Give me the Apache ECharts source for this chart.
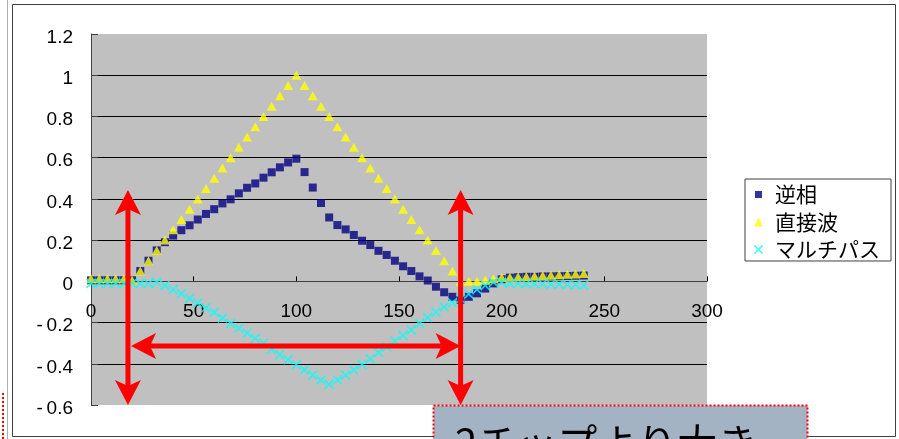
<!DOCTYPE html>
<html>
<head>
<meta charset="utf-8">
<script src="https://cdn.jsdelivr.net/npm/echarts@6/dist/echarts.min.js"></script>
<style>
  html, body { margin: 0; padding: 0; background: #ffffff; }
  #chart { width: 899px; height: 439px; }
</style>
</head>
<body>
<div id="chart"></div>
<script>
// Sample positions (chip offset)
const xs = [0, 4, 8, 12, 16, 20, 24, 28, 32, 36, 40, 44, 48, 52, 56, 60, 64, 68, 72, 76,
  80, 84, 88, 92, 96, 100, 104, 108, 112, 116, 120, 124, 128, 132, 136, 140, 144, 148, 152, 156,
  160, 164, 168, 172, 176, 180, 184, 188, 192, 196, 200, 204, 208, 212, 216, 220, 224, 228, 232, 236, 240];

// 逆相
const antiPhase = [0.005, 0.005, 0.005, 0.005, 0.005, 0.005, 0.05, 0.1, 0.15, 0.19, 0.222, 0.248, 0.272, 0.3, 0.327, 0.35,
  0.378, 0.398, 0.427, 0.454, 0.475, 0.503, 0.529, 0.553, 0.577, 0.595, 0.53, 0.455, 0.38, 0.31,
  0.273, 0.252, 0.225, 0.197, 0.176, 0.148, 0.128, 0.1, 0.073, 0.05, 0.024, 0.004, -0.026, -0.053, -0.075,
  -0.09, -0.075, -0.058, -0.035, -0.01, 0.01, 0.018, 0.02, 0.022, 0.022, 0.024, 0.024, 0.025, 0.026, 0.027, 0.028];

// 直接波
const directWave = [0.012, 0.012, 0.012, 0.012, 0.012, 0.005, 0.05, 0.1, 0.15, 0.2, 0.25, 0.3, 0.35, 0.4, 0.45, 0.5,
  0.55, 0.6, 0.65, 0.7, 0.75, 0.8, 0.85, 0.9, 0.95, 1.0, 0.95, 0.9, 0.85, 0.8,
  0.75, 0.7, 0.65, 0.6, 0.55, 0.5, 0.45, 0.4, 0.35, 0.3, 0.25, 0.2, 0.15, 0.1, 0.05,
  0.0, 0.0, 0.0, 0.006, 0.012, 0.018, 0.02, 0.022, 0.024, 0.026, 0.028, 0.03, 0.032, 0.034, 0.036, 0.038];

// マルチパス
const multipath = [-0.01, -0.01, -0.01, -0.01, -0.01, -0.01, -0.01, -0.01, -0.005, -0.02, -0.04, -0.06, -0.083, -0.105, -0.128, -0.15,
  -0.178, -0.204, -0.228, -0.252, -0.277, -0.3, -0.33, -0.356, -0.38, -0.405, -0.43, -0.455, -0.479, -0.5,
  -0.479, -0.455, -0.43, -0.403, -0.376, -0.345, -0.318, -0.29, -0.262, -0.236, -0.205, -0.176, -0.15, -0.125, -0.104,
  -0.085, -0.062, -0.04, -0.02, -0.005, -0.005, -0.01, -0.01, -0.012, -0.012, -0.012, -0.014, -0.014, -0.015, -0.016, -0.018];

const seriesNames = ['逆相', '直接波', 'マルチパス'];
const xTicks = [0, 50, 100, 150, 200, 250, 300];
const yTicks = [-0.6, -0.4, -0.2, 0, 0.2, 0.4, 0.6, 0.8, 1, 1.2];

// Red span arrows, in data coordinates (arrow tips)
const spanStart = 18;
const spanEnd = 180;
const spanTop = 0.443;
const spanBottom = -0.6;
const spanLevel = -0.314;
const spanLeft = 19.5;

const crossPath = 'path://M0,1.15L1.15,0L5,3.85L8.85,0L10,1.15L6.15,5L10,8.85L8.85,10L5,6.15L1.15,10L0,8.85L3.85,5Z';
const squareIcon = 'path://M0,0M9,9M1,1h7v7h-7z';

function pairs(values) {
  return xs.map((x, i) => [x, values[i]]);
}

const chart = echarts.init(document.getElementById('chart'), null, { renderer: 'canvas' });

const labelFont = 'Liberation Sans, Arial, sans-serif';
const cjkFont = '"Noto Sans CJK JP", sans-serif';

// grid geometry
const gridTop = 34, gridHeight = 371;
const yMin = yTicks[0], yMax = yTicks[yTicks.length - 1];
// lift the horizontal axis from the bottom edge up to the zero line
const zeroLift = gridHeight * (0 - yMin) / (yMax - yMin);

const baseGraphics = [
  { type: 'line', shape: { x1: 7.5, y1: 0, x2: 7.5, y2: 439 }, style: { stroke: '#b0b0b0', lineWidth: 1 }, z: 1 },
  { type: 'line', shape: { x1: 3, y1: 393, x2: 3, y2: 439 }, style: { stroke: '#ff0000', lineWidth: 2, lineDash: [2, 2] }, z: 1 },
  { type: 'rect', shape: { x: 12.5, y: 4.5, width: 883, height: 432 }, style: { fill: 'none', stroke: '#404040', lineWidth: 1 }, z: 1 },
  { type: 'rect', shape: { x: 433.5, y: 405.5, width: 374, height: 60 }, style: { fill: '#a3b3c4', stroke: '#ff0000', lineWidth: 2, lineDash: [2, 2] }, z: 100 },
  { type: 'text', x: 455, y: 423, z: 101, style: { text: '2チップより大き', fontSize: 40, fontFamily: cjkFont, fill: '#000000', verticalAlign: 'top' } }
];

chart.setOption({
  animation: false,
  backgroundColor: '#ffffff',
  grid: {
    left: 91, top: gridTop, width: 616, height: gridHeight,
    show: true, backgroundColor: '#c0c0c0', borderWidth: 0
  },
  xAxis: {
    type: 'value',
    position: 'bottom',
    offset: -zeroLift,
    min: xTicks[0], max: xTicks[xTicks.length - 1], interval: xTicks[1] - xTicks[0],
    axisLine: { show: true, onZero: false, lineStyle: { color: '#404040', width: 1 } },
    axisTick: { show: true, inside: true, length: 5, lineStyle: { color: '#000000' } },
    axisLabel: { margin: 21, fontSize: 19, color: '#000000', fontFamily: labelFont },
    splitLine: { show: false }
  },
  yAxis: {
    type: 'value',
    min: yMin, max: yMax, interval: 0.2,
    axisLine: { show: true, onZero: false, lineStyle: { color: '#404040', width: 1 } },
    axisTick: { show: true, inside: true, length: 7, lineStyle: { color: '#404040' } },
    axisLabel: {
      margin: 18, fontSize: 19, color: '#000000', fontFamily: labelFont,
      verticalAlign: 'top', lineHeight: 7,
      formatter: function (v) {
        const a = +Math.abs(v).toFixed(1);
        return v < -1e-9 ? '-\u2009' + a : String(a);
      }
    },
    splitLine: { show: true, showMinLine: false, showMaxLine: false, lineStyle: { color: '#000000', width: 1 } }
  },
  legend: {
    orient: 'vertical',
    left: 745, top: 179,
    padding: [5, 11, 1, 9],
    itemGap: 6.5,
    itemWidth: 9, itemHeight: 9,
    backgroundColor: '#ffffff',
    borderColor: '#404040', borderWidth: 1,
    selectedMode: false,
    textStyle: { fontSize: 21, color: '#000000', fontFamily: cjkFont, padding: [0, 0, 0, 7] },
    data: [
      { name: seriesNames[0], icon: squareIcon },
      { name: seriesNames[1], icon: 'triangle' },
      { name: seriesNames[2], icon: crossPath }
    ]
  },
  series: [
    {
      name: seriesNames[0], type: 'scatter', data: pairs(antiPhase),
      symbol: 'rect', symbolSize: 8, itemStyle: { color: '#000080' }, z: 2,
      emphasis: { disabled: true }, silent: true
    },
    {
      name: seriesNames[1], type: 'scatter', data: pairs(directWave),
      symbol: 'triangle', symbolSize: [10, 9], itemStyle: { color: '#ffff00' }, z: 3,
      emphasis: { disabled: true }, silent: true
    },
    {
      name: seriesNames[2], type: 'scatter', data: pairs(multipath),
      symbol: crossPath, symbolSize: 10, itemStyle: { color: '#00ffff' }, z: 4,
      emphasis: { disabled: true }, silent: true
    }
  ],
  graphic: baseGraphics
});

// Double-headed red arrows placed through the chart's own coordinate conversion
const HEAD_LEN = 25, HEAD_HALF = 13, NOTCH = 19, SHAFT = 5, RED = '#ff0000';

function toPx(x, y) {
  return chart.convertToPixel({ gridIndex: 0 }, [x, y]);
}

function arrow(p1, p2) {
  const dx = p2[0] - p1[0], dy = p2[1] - p1[1];
  const len = Math.hypot(dx, dy);
  const ux = dx / len, uy = dy / len;
  const nx = -uy, ny = ux;
  function head(tip, dir) {
    const bx = tip[0] + dir[0] * HEAD_LEN, by = tip[1] + dir[1] * HEAD_LEN;
    const cx = tip[0] + dir[0] * NOTCH, cy = tip[1] + dir[1] * NOTCH;
    return {
      type: 'polygon', z: 50,
      shape: { points: [tip, [bx + nx * HEAD_HALF, by + ny * HEAD_HALF], [cx, cy], [bx - nx * HEAD_HALF, by - ny * HEAD_HALF]] },
      style: { fill: RED }
    };
  }
  return [
    {
      type: 'line', z: 49,
      shape: { x1: p1[0] + ux * NOTCH, y1: p1[1] + uy * NOTCH, x2: p2[0] - ux * NOTCH, y2: p2[1] - uy * NOTCH },
      style: { stroke: RED, lineWidth: SHAFT }
    },
    head(p1, [ux, uy]),
    head(p2, [-ux, -uy])
  ];
}

const arrows = [].concat(
  arrow(toPx(spanStart, spanTop), toPx(spanStart, spanBottom)),
  arrow(toPx(spanEnd, spanTop), toPx(spanEnd, spanBottom)),
  arrow(toPx(spanLeft, spanLevel), toPx(spanEnd, spanLevel))
);

chart.setOption({ graphic: baseGraphics.concat(arrows) });
</script>
</body>
</html>
